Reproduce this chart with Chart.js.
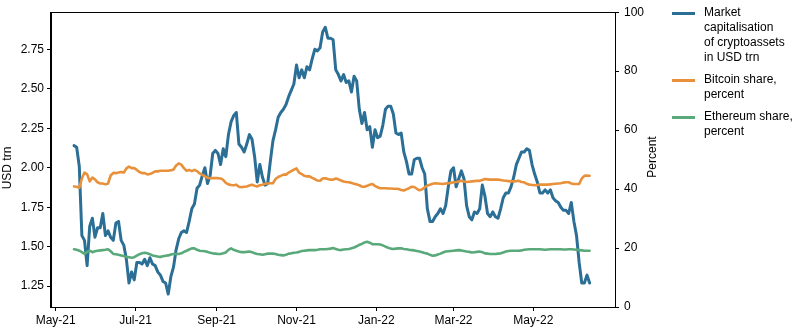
<!DOCTYPE html>
<html>
<head>
<meta charset="utf-8">
<script src="https://cdn.jsdelivr.net/npm/chart.js@4/dist/chart.umd.min.js"></script>
<style>
  body { margin: 0; background: #fff; }
  #wrap { position: relative; width: 797px; height: 332px; }
  #legend { position: absolute; left: 672px; top: 5px; font: 12px 'Liberation Sans', Arial, sans-serif; color: #000; }
  .item { position: relative; padding-left: 32px; line-height: 15px; margin-bottom: 7px; }
  .swatch { position: absolute; left: 0; top: 7px; width: 23px; height: 3px; }
</style>
</head>
<body>
<div id="wrap">
  <canvas id="chart" width="797" height="332"></canvas>
  <div id="legend"></div>
</div>
<script>
// Series sampled every 2 days from 15 May 2021
const firstDate = '2021-05-15';
const stepDays = 2;

// Market capitalisation of cryptoassets, USD trn (left axis)
const marketCap = [
  2.14, 2.13, 2.01, 1.57, 1.54, 1.38, 1.63, 1.68, 1.56, 1.62,
  1.62, 1.71, 1.57, 1.60, 1.56, 1.54, 1.65, 1.66, 1.54, 1.51,
  1.42, 1.27, 1.34, 1.29, 1.40, 1.40, 1.39, 1.42, 1.38, 1.43,
  1.39, 1.38, 1.34, 1.32, 1.28, 1.27, 1.20, 1.31, 1.37, 1.48,
  1.55, 1.59, 1.60, 1.59, 1.66, 1.74, 1.77, 1.87, 1.89, 1.95,
  2.00, 1.90, 1.95, 2.09, 2.11, 2.09, 2.02, 2.12, 2.07, 2.21,
  2.29, 2.33, 2.35, 2.15, 2.13, 2.10, 2.15, 2.21, 2.18, 2.07,
  1.91, 2.02, 1.94, 1.89, 1.90, 2.04, 2.17, 2.24, 2.32, 2.35,
  2.37, 2.40, 2.45, 2.49, 2.53, 2.65, 2.57, 2.62, 2.57, 2.64,
  2.62, 2.69, 2.75, 2.74, 2.76, 2.86, 2.89, 2.82, 2.82, 2.81,
  2.62, 2.59, 2.55, 2.59, 2.54, 2.55, 2.48, 2.58, 2.55, 2.37,
  2.28, 2.35, 2.24, 2.26, 2.13, 2.24, 2.19, 2.20, 2.27, 2.37,
  2.39, 2.39, 2.34, 2.22, 2.21, 2.22, 2.10, 2.04, 1.96, 1.96,
  2.05, 2.06, 2.06, 2.00, 1.96, 1.74, 1.66, 1.66, 1.69, 1.71,
  1.74, 1.71, 1.76, 1.88, 1.98, 2.00, 1.88, 1.93, 1.98, 1.93,
  1.76, 1.69, 1.67, 1.72, 1.71, 1.74, 1.89, 1.82, 1.71, 1.69,
  1.72, 1.69, 1.68, 1.74, 1.81, 1.84, 1.84, 1.88, 1.94, 2.02,
  2.06, 2.10, 2.10, 2.12, 2.11, 2.02, 1.96, 1.91, 1.84, 1.84,
  1.86, 1.84, 1.86, 1.81, 1.79, 1.78, 1.75, 1.73, 1.73, 1.71,
  1.78, 1.66, 1.57, 1.40, 1.27, 1.27, 1.32, 1.27
];

// Bitcoin share, percent (right axis)
const btcShare = [
  40.9, 40.8, 40.4, 43.6, 45.6, 45.0, 42.6, 43.9, 43.3, 42.3,
  41.9, 41.9, 41.6, 41.9, 44.6, 45.5, 45.4, 45.6, 45.8, 45.6,
  47.0, 47.6, 47.1, 47.1, 46.5, 45.8, 45.4, 45.4, 45.0, 45.1,
  45.5, 46.0, 46.0, 46.2, 46.2, 46.2, 46.2, 46.4, 46.6, 48.0,
  48.7, 48.3, 47.1, 46.2, 46.5, 46.1, 46.5, 46.1, 45.3, 44.8,
  44.3, 43.8, 43.7, 43.7, 43.7, 43.7, 43.6, 43.1, 42.1, 41.6,
  41.4, 41.3, 41.5, 40.8, 40.6, 40.8, 40.9, 41.2, 41.5, 41.1,
  40.9, 41.3, 41.5, 41.8, 41.9, 42.0, 42.0, 43.4, 44.1, 44.5,
  44.9, 44.9, 45.6, 46.1, 46.6, 47.0, 45.6, 45.1, 44.5, 44.3,
  44.3, 43.8, 43.4, 42.9, 42.8, 43.6, 43.7, 43.4, 43.2, 43.2,
  43.6, 43.3, 42.9, 42.6, 42.4, 42.3, 42.1, 41.8, 41.6, 41.3,
  40.8, 40.8, 41.1, 41.5, 41.7, 41.1, 40.6, 40.3, 40.3, 40.3,
  40.2, 40.2, 40.1, 40.1, 40.0, 39.7, 39.5, 39.9, 40.3, 40.8,
  40.7, 40.1, 39.6, 39.9, 40.6, 41.2, 41.5, 41.8, 42.0, 41.9,
  41.8, 41.7, 41.9, 42.0, 42.1, 42.3, 42.4, 42.6, 42.8, 42.6,
  42.4, 42.5, 42.6, 42.7, 42.8, 42.8, 43.1, 43.4, 43.3, 43.2,
  43.2, 43.2, 43.2, 43.1, 42.9, 42.8, 42.7, 42.6, 42.6, 42.7,
  42.8, 42.4, 42.3, 41.8, 41.5, 41.4, 41.3, 41.4, 41.5, 41.5,
  41.5, 41.5, 41.6, 41.7, 41.8, 41.9, 42.0, 42.2, 42.3, 42.3,
  41.9, 41.7, 41.7, 41.7, 43.6, 44.5, 44.6, 44.5
];

// Ethereum share, percent (right axis)
const ethShare = [
  19.6, 19.4, 19.1, 18.6, 18.0, 18.7, 19.1, 18.6, 18.9, 19.1,
  19.2, 19.3, 19.4, 19.6, 18.9, 18.0, 17.9, 17.7, 17.5, 17.3,
  17.0, 16.9, 16.7, 16.9, 17.4, 17.9, 18.2, 18.4, 18.2, 17.9,
  17.5, 17.3, 17.1, 17.0, 17.2, 17.4, 17.5, 17.8, 18.0, 18.0,
  18.0, 18.2, 18.7, 19.1, 19.5, 19.9, 19.9, 19.4, 19.1, 19.0,
  18.9, 18.7, 18.4, 18.2, 18.1, 18.0, 18.0, 18.2, 18.5, 19.4,
  19.9, 19.4, 19.1, 18.8, 18.6, 18.6, 18.7, 18.8, 18.6, 18.2,
  18.0, 17.9, 17.7, 17.9, 18.1, 18.1, 18.1, 18.0, 17.7, 17.6,
  17.5, 17.7, 18.1, 18.2, 18.4, 18.5, 18.7, 19.0, 19.1, 19.2,
  19.3, 19.3, 19.3, 19.4, 19.6, 19.6, 19.6, 19.7, 19.8, 20.0,
  19.7, 19.4, 19.3, 19.5, 19.6, 19.7, 19.9, 20.2, 20.6, 21.1,
  21.4, 21.9, 22.1, 21.8, 21.3, 21.3, 21.3, 21.2, 20.9, 20.5,
  20.1, 19.8, 19.7, 19.8, 19.9, 19.9, 19.7, 19.6, 19.4, 19.3,
  19.2, 19.0, 18.8, 18.6, 18.3, 18.1, 17.7, 17.4, 17.5, 17.8,
  18.1, 18.5, 18.8, 18.9, 19.0, 19.1, 19.2, 19.3, 19.2, 19.0,
  18.8, 18.7, 18.5, 18.6, 18.7, 18.8, 18.6, 18.2, 18.1, 18.0,
  18.0, 18.0, 18.1, 18.2, 18.5, 18.8, 19.0, 19.1, 19.1, 19.1,
  19.1, 19.2, 19.4, 19.5, 19.6, 19.6, 19.6, 19.6, 19.6, 19.5,
  19.4, 19.5, 19.6, 19.6, 19.6, 19.6, 19.6, 19.5, 19.5, 19.6,
  19.6, 19.5, 19.4, 19.3, 19.2, 19.1, 19.1, 19.1
];

// Axis ticks
const xTickDates = ['2021-05-01', '2021-07-01', '2021-09-01', '2021-11-01', '2022-01-01', '2022-03-01', '2022-05-01'];
const xTickLabels = ['May-21', 'Jul-21', 'Sep-21', 'Nov-21', 'Jan-22', 'Mar-22', 'May-22'];
const leftTicks = [1.25, 1.5, 1.75, 2.0, 2.25, 2.5, 2.75];
const rightTicks = [0, 20, 40, 60, 80, 100];

const seriesNames = [
  ['Market', 'capitalisation', 'of cryptoassets', 'in USD trn'],
  ['Bitcoin share,', 'percent'],
  ['Ethereum share,', 'percent']
];
const colors = ['#2b6f96', '#e8913a', '#5aa97a'];

const DAY = 86400000;
function toDay(s) {
  return Date.parse(s + 'T00:00:00Z') / DAY;
}

const startDay = toDay(firstDate);
function points(values) {
  return values.map((v, i) => ({ x: startDay + i * stepDays, y: v }));
}

const font = { family: "'Liberation Sans', Arial, sans-serif", size: 12 };

// Box round the plot and the two axis titles
const framePlugin = {
  id: 'frame',
  afterDraw(chart) {
    const { ctx, chartArea: a } = chart;
    ctx.save();
    ctx.strokeStyle = '#000';
    ctx.lineWidth = 1;
    ctx.strokeRect(Math.round(a.left) - 0.5, Math.round(a.top) + 0.5, Math.round(a.right - a.left) + 1, Math.round(a.bottom - a.top));
    ctx.fillStyle = '#000';
    ctx.font = "12px 'Liberation Sans', Arial, sans-serif";
    ctx.textAlign = 'center';
    ctx.textBaseline = 'middle';
    ctx.translate(8, 168);
    ctx.rotate(-Math.PI / 2);
    ctx.fillText('USD trn', 0, 0);
    ctx.restore();
    ctx.save();
    ctx.fillStyle = '#000';
    ctx.font = "12px 'Liberation Sans', Arial, sans-serif";
    ctx.textAlign = 'center';
    ctx.textBaseline = 'middle';
    ctx.translate(653, 157);
    ctx.rotate(-Math.PI / 2);
    ctx.fillText('Percent', 0, 0);
    ctx.restore();
  }
};

new Chart(document.getElementById('chart'), {
  type: 'line',
  data: {
    datasets: [
      { data: points(marketCap), yAxisID: 'y', borderColor: colors[0], borderWidth: 3, order: 3 },
      { data: points(btcShare), yAxisID: 'y2', borderColor: colors[1], borderWidth: 2.6, order: 2 },
      { data: points(ethShare), yAxisID: 'y2', borderColor: colors[2], borderWidth: 2.6, order: 1 }
    ]
  },
  options: {
    responsive: false,
    animation: false,
    parsing: false,
    layout: { padding: { top: 9, right: 132, left: 0, bottom: 0 } },
    elements: { point: { radius: 0 }, line: { tension: 0, borderJoinStyle: 'round', borderCapStyle: 'round' } },
    plugins: { legend: { display: false }, tooltip: { enabled: false } },
    scales: {
      x: {
        type: 'linear',
        min: toDay('2021-05-01') - 3.6,
        max: toDay('2022-05-01') + 62.4,
        afterBuildTicks: (scale) => { scale.ticks = xTickDates.map(d => ({ value: toDay(d) })); },
        afterFit: (scale) => { scale.height = 25; },
        ticks: {
          autoSkip: false, maxRotation: 0, padding: 2, color: '#000', font,
          callback: (v, i) => xTickLabels[i]
        },
        grid: { drawOnChartArea: false, tickLength: 4, color: '#000' },
        border: { color: '#000' }
      },
      y: {
        position: 'left',
        min: 1.118,
        max: 2.985,
        afterBuildTicks: (scale) => { scale.ticks = leftTicks.map(v => ({ value: v })); },
        afterFit: (scale) => { scale.width = 51; },
        ticks: { padding: 3, color: '#000', font, callback: (v) => v.toFixed(2) },
        grid: { drawOnChartArea: false, tickLength: 4, color: '#000' },
        border: { color: '#000' }
      },
      y2: {
        position: 'right',
        min: 0,
        max: 100,
        afterBuildTicks: (scale) => { scale.ticks = rightTicks.map(v => ({ value: v })); },
        afterFit: (scale) => { scale.width = 50; },
        ticks: { padding: 5, color: '#000', font },
        grid: { drawOnChartArea: false, tickLength: 4, color: '#000' },
        border: { color: '#000' }
      }
    }
  },
  plugins: [framePlugin]
});

// Legend at the right, wrapped as in the original
const legend = document.getElementById('legend');
seriesNames.forEach((lines, i) => {
  const item = document.createElement('div');
  item.className = 'item';
  const sw = document.createElement('span');
  sw.className = 'swatch';
  sw.style.background = colors[i];
  item.appendChild(sw);
  item.appendChild(document.createTextNode(''));
  lines.forEach((t, j) => {
    if (j > 0) item.appendChild(document.createElement('br'));
    item.appendChild(document.createTextNode(t));
  });
  legend.appendChild(item);
});
</script>
</body>
</html>
